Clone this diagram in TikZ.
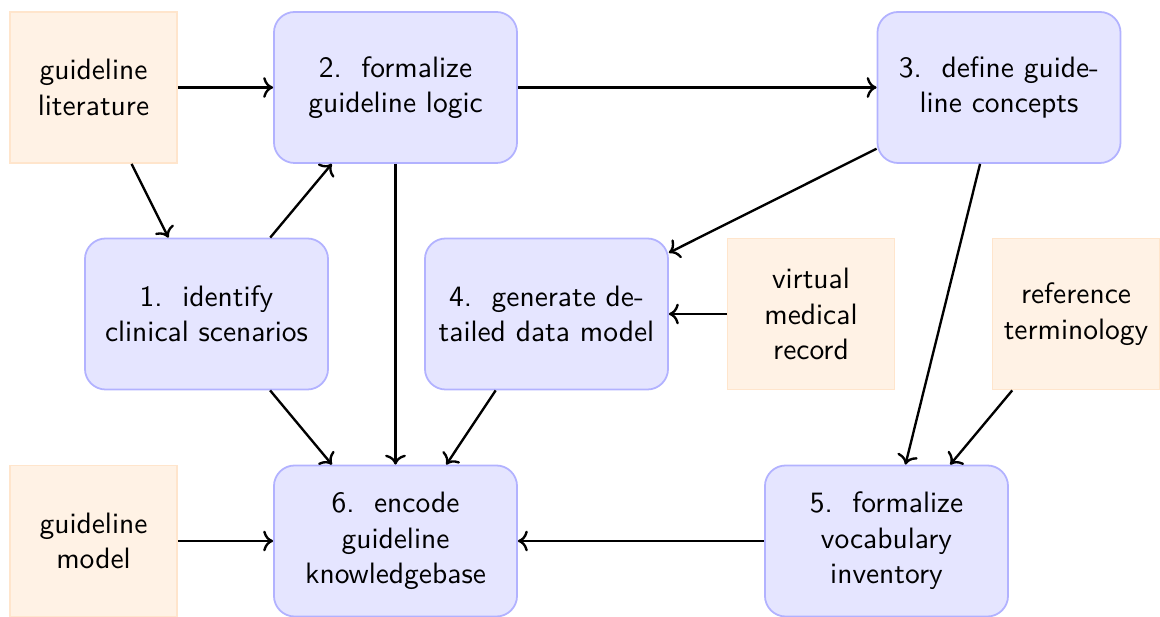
\documentclass[tikz,border=0pt]{standalone}
\usetikzlibrary{arrows.meta}
\begin{document}
\begin{tikzpicture}[x=0.339pt,y=-0.339pt,
  font=\sffamily,
  stepbox/.style={draw=blue!30,fill=blue!10,line width=0.6pt,rounded corners=7pt,minimum width=82.4pt,minimum height=51.2pt,align=center,inner sep=0pt},
  srcbox/.style={draw=orange!20,fill=orange!10,line width=0.6pt,minimum width=56.6pt,minimum height=51.2pt,align=center,inner sep=0pt},
  conn/.style={->,thick}]
\useasboundingbox (0,0) rectangle (1160,617);
\node[srcbox]  (lit) at (93.5,87.5) {guideline\\literature};
\node[stepbox] (n2)  at (395.5,87.5) {2.\ \ formalize\\guideline logic};
\node[stepbox] (n3)  at (999,87.5) {3.\ \ define guide-\\line concepts};
\node[stepbox] (n1)  at (206.5,314) {1.\ \ identify\\clinical scenarios};
\node[stepbox] (n4)  at (546.5,314) {4.\ \ generate de-\\tailed data model};
\node[srcbox]  (vmr) at (811,314) {virtual\\medical\\record};
\node[srcbox]  (ref) at (1076,314) {reference\\terminology};
\node[srcbox]  (gm)  at (93.5,541) {guideline\\model};
\node[stepbox] (n6)  at (395.5,541) {6.\ \ encode\\guideline\\knowledgebase};
\node[stepbox] (n5)  at (886.5,541) {5.\ \ formalize\\vocabulary\\inventory};
\draw[conn] (lit) -- (n2);
\draw[conn] (lit) -- (n1);
\draw[conn] (n1) -- (n2);
\draw[conn] (n2) -- (n3);
\draw[conn] (n2) -- (n6);
\draw[conn] (n3) -- (n4);
\draw[conn] (vmr) -- (n4);
\draw[conn] (n3) -- (n5);
\draw[conn] (ref) -- (n5);
\draw[conn] (n1) -- (n6);
\draw[conn] (n4) -- (n6);
\draw[conn] (gm) -- (n6);
\draw[conn] (n5) -- (n6);
\end{tikzpicture}
\end{document}
